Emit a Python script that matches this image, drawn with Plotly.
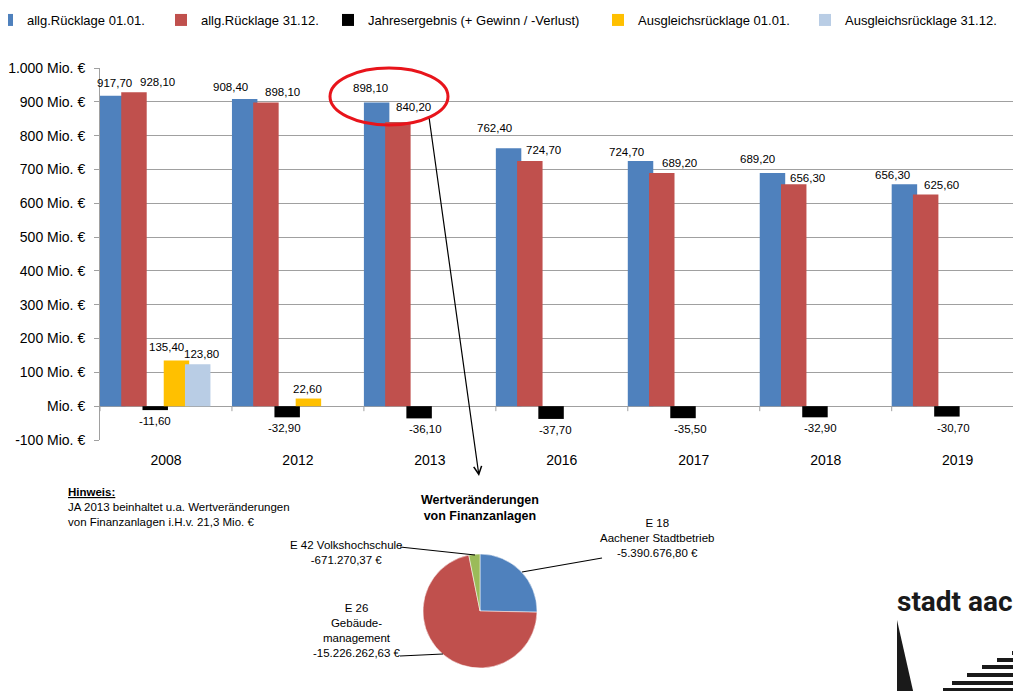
import plotly.graph_objects as go

# ---------------- data ----------------
years = ["2008", "2012", "2013", "2016", "2017", "2018", "2019"]
ruecklage_0101 = [917.7, 908.4, 898.1, 762.4, 724.7, 689.2, 656.3]
ruecklage_3112 = [928.1, 898.1, 840.2, 724.7, 689.2, 656.3, 625.6]
jahresergebnis = [-11.6, -32.9, -36.1, -37.7, -35.5, -32.9, -30.7]
ausgleich_0101 = [135.4, 22.6, None, None, None, None, None]
ausgleich_3112 = [123.8, None, None, None, None, None, None]

series_names = ["allg.Rücklage 01.01.", "allg.Rücklage 31.12.",
                "Jahresergebnis (+ Gewinn / -Verlust)",
                "Ausgleichsrücklage 01.01.", "Ausgleichsrücklage 31.12."]

ytick_vals = [-100, 0, 100, 200, 300, 400, 500, 600, 700, 800, 900, 1000]
ytick_text = ["-100 Mio. €", "Mio. €", "100 Mio. €", "200 Mio. €", "300 Mio. €",
              "400 Mio. €", "500 Mio. €", "600 Mio. €", "700 Mio. €",
              "800 Mio. €", "900 Mio. €", "1.000 Mio. €"]

pie_labels = ["E 18<br>Aachener Stadtbetrieb", "E 26<br>Gebäude-<br>management",
              "E 42 Volkshochschule"]
pie_values = [-5390676.80, -15226262.63, -671270.37]

logo_text = "stadt aac"

# label offsets (pixels, relative to category centre / bar end)
blue_dx = [-51, -67, -59, -67, -67, -68, -65]
blue_dy = [13, 12, 14, 20, 9, 14, 9]
red_dx = [-8, -15, -16, -18, -14, -18, -16]
red_dy = [10, 10, 15, 11, 10, 6, 10]
black_dx = [-11, -13, -4, -6, -3, -5, -4]
yellow_dx = [1, 10, 0, 0, 0, 0, 0]
yellow_dy = [13, 10, 0, 0, 0, 0, 0]
lblue_dx = [36, 0, 0, 0, 0, 0, 0]

# ---------------- styling ----------------
# page body has an 8px margin: the figure is drawn so that screen pixels match
OX, OY = 8, 8
W, H = 1013, 683
FONT = "Liberation Sans, Arial, sans-serif"
colors = ["#4F81BD", "#C0504D", "#000000", "#FFC000", "#B9CDE5"]
bar_width = 0.193
offsets = [-0.5, -0.339, -0.178, -0.017, 0.144]
GRID = "#A0A0A0"


def px(x):
    return (x - OX) / W


def py(y):
    return 1 - (y - OY) / H


def de_num(v, dec=2):
    s = f"{abs(v):,.{dec}f}".replace(",", "X").replace(".", ",").replace("X", ".")
    return ("-" if v < 0 else "") + s


fig = go.Figure()
all_series = [ruecklage_0101, ruecklage_3112, jahresergebnis, ausgleich_0101, ausgleich_3112]
legend_ids = ["legend", "legend2", "legend3", "legend4", "legend5"]
for i, (vals, name) in enumerate(zip(all_series, series_names)):
    fig.add_trace(go.Bar(
        x=years, y=vals, name=name, marker_color=colors[i], marker_line_width=0,
        width=bar_width, offset=offsets[i], legend=legend_ids[i],
        hoverinfo="x+y+name",
    ))

fig.add_trace(go.Pie(
    labels=[l.replace("<br>", " ") for l in pie_labels],
    values=[abs(v) for v in pie_values],
    sort=False, direction="clockwise", rotation=0,
    marker=dict(colors=["#4F81BD", "#C0504D", "#9BBB59"], line=dict(color="white", width=0.5)),
    textinfo="none", showlegend=False,
    domain=dict(x=[px(423), px(537)], y=[py(668), py(554)]),
))

annotations = []


def add_label(idx, y, text, dx, dy, size=11.5):
    # idx = numeric position of the category on the category axis
    annotations.append(dict(x=idx, y=y, xref="x", yref="y", text=text, showarrow=False,
                            xshift=dx, yshift=dy, xanchor="center", yanchor="middle",
                            font=dict(family=FONT, size=size, color="black")))


for i, yr in enumerate(years):
    add_label(i, ruecklage_0101[i], de_num(ruecklage_0101[i]), blue_dx[i], blue_dy[i])
    add_label(i, ruecklage_3112[i], de_num(ruecklage_3112[i]), red_dx[i], red_dy[i])
    add_label(i, jahresergebnis[i], de_num(jahresergebnis[i]), black_dx[i], -11)
    if ausgleich_0101[i] is not None:
        add_label(i, ausgleich_0101[i], de_num(ausgleich_0101[i]), yellow_dx[i], yellow_dy[i])
    if ausgleich_3112[i] is not None:
        add_label(i, ausgleich_3112[i], de_num(ausgleich_3112[i]), lblue_dx[i], 10)

# pie title and labels
annotations.append(dict(x=px(480), y=py(508), xref="paper", yref="paper",
                        text="<b>Wertveränderungen<br>von Finanzanlagen</b>", showarrow=False,
                        xanchor="center", yanchor="middle",
                        font=dict(family=FONT, size=12.5, color="black")))
annotations.append(dict(x=px(657), y=py(538), xref="paper", yref="paper",
                        text=pie_labels[0] + "<br>" + de_num(pie_values[0]) + " €",
                        showarrow=False, xanchor="center", yanchor="middle", align="center",
                        font=dict(family=FONT, size=11.5, color="black")))
annotations.append(dict(x=px(357), y=py(630), xref="paper", yref="paper",
                        text=pie_labels[1] + "<br>" + de_num(pie_values[1]) + " €",
                        showarrow=False, xanchor="center", yanchor="middle", align="center",
                        font=dict(family=FONT, size=11.5, color="black")))
annotations.append(dict(x=px(346), y=py(552), xref="paper", yref="paper",
                        text=pie_labels[2] + "<br>" + de_num(pie_values[2]) + " €",
                        showarrow=False, xanchor="center", yanchor="middle", align="center",
                        font=dict(family=FONT, size=11.5, color="black")))

# Hinweis
annotations.append(dict(x=px(66), y=py(484), xref="paper", yref="paper",
                        text="<b><u>Hinweis:</u></b><br>JA 2013 beinhaltet u.a. Wertveränderungen"
                             "<br>von Finanzanlagen i.H.v. 21,3 Mio. €",
                        showarrow=False, xanchor="left", yanchor="top", align="left",
                        font=dict(family=FONT, size=11.5, color="black")))

# arrow from 2013 to pie
annotations.append(dict(x=px(479), y=py(476), xref="paper", yref="paper", text="",
                        showarrow=True, ax=-50, ay=-359, arrowhead=5, arrowsize=1.3,
                        arrowwidth=1.2, arrowcolor="black"))

# logo text
annotations.append(dict(x=px(895), y=py(601), xref="paper", yref="paper",
                        text="<b>" + logo_text + "</b>", showarrow=False, xanchor="left",
                        yanchor="middle", font=dict(family="Roboto, Open Sans, sans-serif",
                                                    size=28, color="#1a1a1a")))

shapes = []
# ellipse around 2013
shapes.append(dict(type="circle", xref="paper", yref="paper", x0=px(330), x1=px(448),
                   y0=py(125), y1=py(68), line=dict(color="#E8141B", width=3)))
# category boundary ticks at zero line
for k in range(len(years) + 1):
    shapes.append(dict(type="line", xref="x", yref="y", x0=k - 0.5, x1=k - 0.5,
                       ysizemode="pixel", yanchor=0, y0=0, y1=-5,
                       line=dict(color=GRID, width=1)))
# pie leader lines
for (x0, y0, x1, y1) in [(400, 547, 475, 555), (522, 572, 602, 558), (400, 656, 443, 654)]:
    shapes.append(dict(type="line", xref="paper", yref="paper", x0=px(x0), y0=py(y0),
                       x1=px(x1), y1=py(y1), line=dict(color="black", width=1.2)))
# logo graphic
shapes.append(dict(type="path", xref="paper", yref="paper",
                   path=f"M {px(897)},{py(620)} L {px(897)},{py(695)} L {px(914)},{py(695)} Z",
                   fillcolor="#1a1a1a", line=dict(width=0)))
for (xs, ys) in [(1012, 653), (997, 660), (982, 667), (967, 675), (952, 683), (943, 690)]:
    shapes.append(dict(type="line", xref="paper", yref="paper", x0=px(xs), x1=px(1030),
                       y0=py(ys), y1=py(ys), line=dict(color="#1a1a1a", width=4)))

# legends (one per series so each entry sits where the reference has it)
legend_text_x = [27, 201, 368, 638, 845]
legends = {}
for lid, tx in zip(legend_ids, legend_text_x):
    legends[lid] = dict(x=px(tx - 40), y=py(20), xanchor="left", yanchor="middle",
                        orientation="h", bgcolor="rgba(0,0,0,0)", itemwidth=30,
                        font=dict(family=FONT, size=13, color="black"))

fig.update_layout(
    width=W, height=H, autosize=False,
    margin=dict(l=0, r=0, t=0, b=0, autoexpand=False),
    paper_bgcolor="white", plot_bgcolor="white",
    barmode="overlay", showlegend=True,
    font=dict(family=FONT, size=14, color="black"),
    xaxis=dict(domain=[px(100), 1], range=[-0.5, 6.48], type="category",
               showgrid=False, zeroline=False, showline=False, ticks="",
               ticklabelstandoff=10, automargin=False,
               tickfont=dict(family=FONT, size=14, color="black")),
    yaxis=dict(domain=[py(440), py(68)], range=[-100, 1000],
               tickmode="array", tickvals=ytick_vals, ticktext=ytick_text,
               showgrid=True, gridcolor=GRID, gridwidth=1,
               zeroline=True, zerolinecolor=GRID, zerolinewidth=1,
               showline=True, linecolor=GRID, linewidth=1,
               ticks="outside", ticklen=5, tickcolor=GRID, ticklabelstandoff=6,
               automargin=False, tickfont=dict(family=FONT, size=14, color="black")),
    annotations=annotations, shapes=shapes,
    **legends,
)

fig.write_html("out.html")
